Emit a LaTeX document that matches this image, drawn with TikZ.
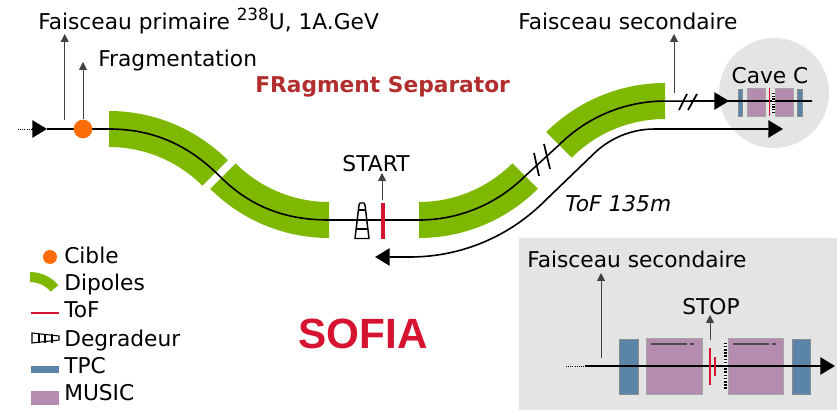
\documentclass[tikz,border=0pt]{standalone}
\usepackage{fontspec}
\setmainfont{DejaVu Sans}
\newfontfamily\arialfont{Liberation Sans}
\usetikzlibrary{arrows.meta}
\definecolor{dipolegreen}{RGB}{127,184,0}
\definecolor{cibleorange}{RGB}{255,108,10}
\definecolor{tofred}{RGB}{214,20,50}
\definecolor{titlered}{RGB}{178,45,45}
\definecolor{tpcblue}{RGB}{91,133,168}
\definecolor{musicpurple}{RGB}{181,139,176}
\definecolor{panelgrey}{RGB}{227,229,229}
\tikzset{
    lbl/.style={inner sep=0, anchor=base west, font=\fontsize{16.3}{18}\selectfont},
    annot/.style={draw=black!75, line width=0.6pt, -{Triangle[length=6pt,width=6pt]}},
    beam/.style={line width=1.2pt},
    bighead/.style={-{Triangle[length=11pt,width=13pt]}},
    dipole/.style={fill=dipolegreen},
    tpc/.style={fill=tpcblue, draw=black!45, line width=0.4pt},
    music/.style={fill=musicpurple, draw=black!35, line width=0.4pt},
    tof/.style={draw=tofred},
}
\newcommand{\dipolearc}[6]{\fill[dipole, shift={(#1,#2)}] (#3:#5) arc[start angle=#3, end angle=#4, radius=#5] -- (#4:#6) arc[start angle=#4, end angle=#3, radius=#6] -- cycle;}
\begin{document}
\begin{tikzpicture}[x=0.75pt,y=0.75pt]
    \useasboundingbox (0,0) rectangle (837,410);
    % panels
    \fill[panelgrey] (774,317) circle[radius=55];
    \fill[panelgrey] (519,0) rectangle (837,172);
    % dipoles
    \dipolearc{109}{131}{90}{45}{168}{132}
    \dipolearc{329}{340}{-135}{-90}{168}{132}
    \dipolearc{419}{340}{-90}{-45}{168}{132}
    \dipolearc{665}{159}{135}{90}{168}{132}
    % beam line
    \coordinate (in) at (18,281);
    \coordinate (inhead) at (47,281);
    \draw[line width=0.6pt, densely dotted] (in) -- (32,281);
    \draw[beam, bighead] (32,281) -- (inhead);
    \draw[beam] (inhead) -- (109,281) .. controls (155,281) and (190,263.5) .. (220,233.5) .. controls (250,203.5) and (285,190) .. (329,190) -- (419,190) arc[start angle=-90, end angle=-45, radius=150] -- (559,265) arc[start angle=135, end angle=90, radius=150] -- (812,309);
    \draw[beam, bighead] (715,309) -- (729,309);
    % cuts in the beam
    \draw[line width=1.3pt] (534,257) -- (539,234);
    \draw[line width=1.3pt] (544,266) -- (550,241);
    \draw[line width=1.3pt] (679,300) -- (687,316);
    \draw[line width=1.3pt] (688,300) -- (697,316);
    % tof path
    \draw[beam, {Triangle[length=11pt,width=13pt]}-{Triangle[length=11pt,width=13pt]}] (375,153) -- (410,153) arc[start angle=-90, end angle=-45, radius=190] -- (593,255.5) arc[start angle=135, end angle=90, radius=87] -- (783,281);
    % cible
    \node[circle, fill=cibleorange, inner sep=0, minimum size=14pt] (cible) at (83,281) {};
    % arrows to labels
    \coordinate (primtop) at (64.7,376);
    \coordinate (fragtop) at (83,348);
    \coordinate (sectop) at (674,376);
    \coordinate (starttop) at (382,237);
    \coordinate (secboxtop) at (601,137);
    \coordinate (stoptop) at (710,95);
    \draw[annot] (64.7,290) -- (primtop);
    \draw[annot] (cible) -- (fragtop);
    \draw[annot] (674,317) -- (sectop);
    \draw[annot] (382,210) -- (starttop);
    \draw[annot] (601,52) -- (secboxtop);
    \draw[annot] (710,70) -- (stoptop);
    % degradeur and start
    \filldraw[fill=white, draw=black, line width=1.1pt, line join=round] (355,171.5) -- (359,205) -- (360,207) -- (364,207) -- (365,205) -- (369,171.5) -- cycle;
    \foreach \y/\a/\b in {181/356/368, 190/357/367, 200/358/366}
        \draw[line width=1.4pt] (\a,\y) -- (\b,\y);
    \fill[tofred] (381,171) rectangle (385,207);
    % cave c
    \draw[tpc] (738,294) rectangle (742.5,321);
    \draw[music] (747,294) rectangle (765,322);
    \draw[music] (775,294) rectangle (793,322);
    \draw[tpc] (797,294) rectangle (802,321);
    \draw[beam] (735,309) -- (812,309);
    \draw[tof, line width=0.8pt] (769.7,294) -- (769.7,322);
    \fill[white] (772,297) rectangle (775,318);
    \draw[line width=2.4pt, dash pattern=on 1pt off 1pt] (773.5,297) -- (773.5,318);
    % zoom box
    \draw[tpc] (619,16) rectangle (638,71);
    \draw[music] (646,16) rectangle (702,72);
    \draw[music] (728,16) rectangle (783,72);
    \draw[tpc] (792,16) rectangle (810,71);
    \draw[black!70, line width=0.8pt] (651,66) -- (683,66);
    \draw[black!70, line width=0.8pt, densely dashed] (683,66) -- (696,66);
    \draw[black!70, line width=0.8pt] (733,66) -- (765,66);
    \draw[black!70, line width=0.8pt, densely dashed] (765,66) -- (778,66);
    \draw[line width=0.6pt, densely dotted] (566,44) -- (585,44);
    \draw[beam, bighead] (585,44) -- (835,44);
    \draw[tof, line width=1.5pt] (710,25) -- (710,62);
    \draw[tof, line width=1.5pt] (715,34) -- (715,53);
    \fill[white] (724,21) rectangle (727,67);
    \draw[line width=2.4pt, dash pattern=on 1.2pt off 1.2pt] (725.5,21) -- (725.5,67);
    % legend symbols
    \fill[cibleorange] (50,153) circle[radius=7];
    \dipolearc{30}{101}{90}{40}{37}{27}
    \draw[tof, line width=1.2pt] (31,97) -- (59,97);
    \filldraw[fill=white, draw=black, line width=0.8pt] (32,67) -- (32,77) -- (59,74) -- (59,70) -- cycle;
    \foreach \x in {39,45,52}
        \draw[line width=1pt] (\x,67.5) -- (\x,76);
    \fill[tpcblue] (31,37) rectangle (59,44);
    \fill[musicpurple] (31,5) rectangle (59,19);
    % labels
    \node[lbl] (primaire) at (38,380) {Faisceau primaire \raisebox{0.42em}{\fontsize{12.6}{14}\selectfont 238}U, 1A.GeV};
    \node[lbl] (frag) at (98,343) {Fragmentation};
    \node[lbl] (secondaire) at (518,380) {Faisceau secondaire};
    \node[lbl, font=\fontsize{16.3}{18}\bfseries\selectfont, text=titlered] (frs) at (255,317) {FRagment Separator};
    \node[lbl, anchor=base] (start) at (376,238) {START};
    \node[lbl, anchor=base] (cavec) at (770,326) {Cave C};
    \node[lbl, font=\fontsize{16.3}{18}\itshape\selectfont] (tofpath) at (565,198) {ToF 135m};
    \node[lbl] (secbox) at (527,142) {Faisceau secondaire};
    \node[lbl, anchor=base] (stop) at (711,95) {STOP};
    \node[lbl, anchor=base, font=\fontsize{31.7}{34}\arialfont\bfseries\selectfont, text=tofred] (sofia) at (363,62) {SOFIA};
    \node[lbl] (lcible) at (64,146) {Cible};
    \node[lbl] (ldipoles) at (64,119) {Dipoles};
    \node[lbl] (ltof) at (64,92) {ToF};
    \node[lbl] (ldegrad) at (64,64) {Degradeur};
    \node[lbl] (ltpc) at (64,37) {TPC};
    \node[lbl] (lmusic) at (64,10) {MUSIC};
\end{tikzpicture}
\end{document}
